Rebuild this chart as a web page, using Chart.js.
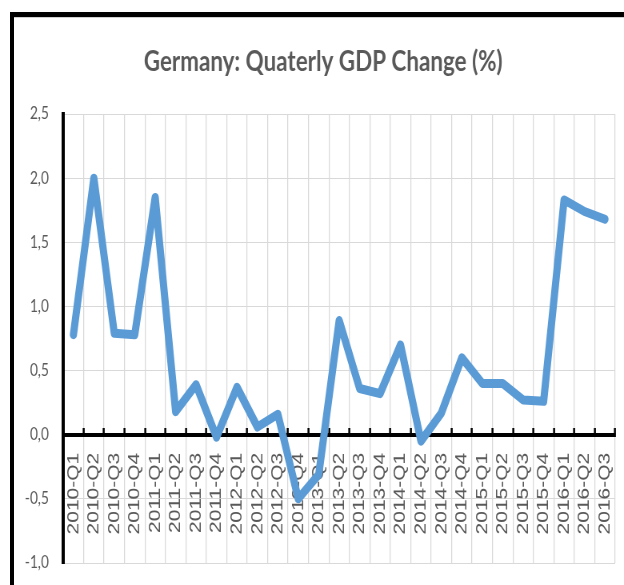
<!DOCTYPE html>
<html>
<head>
<meta charset="utf-8">
<title>Germany: Quaterly GDP Change (%)</title>
<script src="https://cdn.jsdelivr.net/npm/chart.js@4/dist/chart.umd.min.js"></script>
<style>
  html, body { margin:0; padding:0; background:#fff; }
  #page { position:relative; width:624px; height:585px; overflow:hidden; }
  /* black frame of the chart object (top + left edges visible) */
  #frame { position:absolute; left:10px; top:12px; width:700px; height:700px;
           border-top:5px solid #000; border-left:4px solid #000; }
  #frame:after { content:''; position:absolute; left:0; right:0; top:0; border-top:1px solid #d0d0d0; }
  /* the source picture is squeezed horizontally, so the canvas is too */
  #wrap { position:absolute; left:0; top:0; width:780px; height:585px;
          transform:scaleX(0.8); transform-origin:0 0; }
</style>
</head>
<body>
<div id="page">
  <div id="frame"></div>
  <div id="wrap"><canvas id="gdpChart" width="780" height="585"></canvas></div>
</div>

<script>
// quarters on the x axis
const quarters = [
  '2010-Q1','2010-Q2','2010-Q3','2010-Q4',
  '2011-Q1','2011-Q2','2011-Q3','2011-Q4',
  '2012-Q1','2012-Q2','2012-Q3','2012-Q4',
  '2013-Q1','2013-Q2','2013-Q3','2013-Q4',
  '2014-Q1','2014-Q2','2014-Q3','2014-Q4',
  '2015-Q1','2015-Q2','2015-Q3','2015-Q4',
  '2016-Q1','2016-Q2','2016-Q3'
];

// quarter-on-quarter change, %
const gdpChange = [
  0.78, 2.00, 0.79, 0.78,
  1.85, 0.18, 0.39, -0.02,
  0.37, 0.06, 0.16, -0.50,
  -0.31, 0.89, 0.36, 0.32,
  0.70, -0.05, 0.17, 0.60,
  0.40, 0.40, 0.27, 0.26,
  1.83, 1.74, 1.68
];

// y axis range
const yTicks = { min:-1.0, max:2.5, step:0.5 };

const TEXT_GREY = '#595959';
const GRID_GREY = '#d9d9d9';

// layout padding on the left only moves the title; give the y labels that room back
const widenYAxis = {
  id: 'widenYAxis',
  afterLayout(chart) { chart.scales.y.left = 0; }
};

const ctx = document.getElementById('gdpChart');
new Chart(ctx, {
  type: 'line',
  data: {
    labels: quarters,
    datasets: [{
      label: 'GDP change (%)',
      data: gdpChange,
      borderColor: '#5b9bd5',
      borderWidth: 9,
      borderJoinStyle: 'round',
      borderCapStyle: 'round',
      pointRadius: 0,
      tension: 0,
      fill: false
    }]
  },
  plugins: [widenYAxis],
  options: {
    responsive: false,
    animation: false,
    layout: { padding: { left:39, right:11, top:0, bottom:22 } },
    plugins: {
      legend: { display:false },
      tooltip: { enabled:false },
      title: {
        display: true,
        text: 'Germany: Quaterly GDP Change (%)',
        color: TEXT_GREY,
        font: { family:'Lato', size:28, weight:'bold', lineHeight:1.2 },
        padding: { top:45, bottom:35.4 }
      }
    },
    scales: {
      x: {
        position: { y: 0 },
        offset: true,
        grid: {
          offset: true,
          color: GRID_GREY,
          lineWidth: 1.25,
          drawTicks: true,
          tickLength: -9,
          tickColor: '#000',
          tickWidth: 2.5
        },
        border: { display:true, color:'#000', width:4 },
        ticks: {
          autoSkip: false,
          minRotation: 90,
          maxRotation: 90,
          padding: 27,
          color: TEXT_GREY,
          font: { family:'Liberation Sans', size:21 }
        },
        afterFit(scale) {
          scale.height = 20;
          scale.paddingLeft = 0;
          scale.paddingRight = 0;
          scale.paddingTop = 0;
          scale.paddingBottom = 0;
        }
      },
      y: {
        min: yTicks.min,
        max: yTicks.max,
        grid: { color: GRID_GREY, lineWidth: 1, drawTicks: false },
        border: { display:true, color:'#000', width:4 },
        ticks: {
          stepSize: yTicks.step,
          padding: 18,
          color: TEXT_GREY,
          font: { family:'Lato', size:17 },
          callback: v => v.toFixed(1).replace('.', ',')
        },
        afterFit(scale) {
          scale.width = 40;
          scale.paddingTop = 0;
          scale.paddingBottom = 0;
        }
      }
    }
  }
});
</script>
</body>
</html>
